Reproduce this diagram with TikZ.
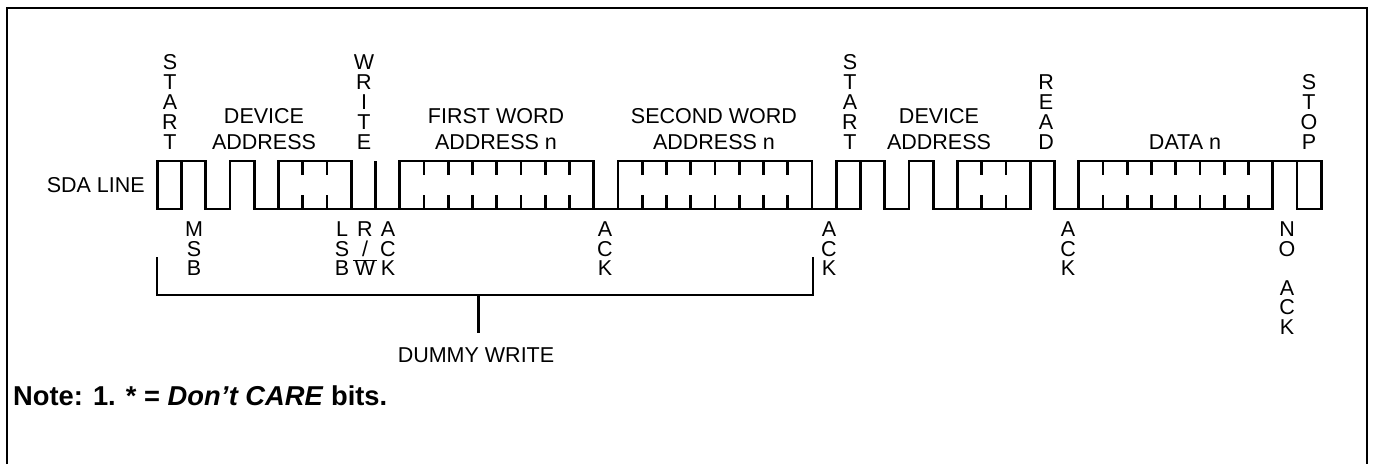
\documentclass[tikz,border=0pt]{standalone}
\usepackage{fontspec}
\setmainfont{Liberation Sans}
\usetikzlibrary{positioning}
\begin{document}
\begin{tikzpicture}[x=1pt,y=-1pt,
  wave/.style={line width=2.8pt},
  hilab/.style={anchor=south,inner sep=0pt,align=center,font=\fontsize{21.5}{26}\selectfont},
  uplab/.style={anchor=south,inner sep=0pt,align=center,font=\fontsize{21.5}{20}\selectfont},
  lolab/.style={anchor=north,inner sep=0pt,align=center,font=\fontsize{21.5}{19.5}\selectfont}]
  \useasboundingbox (0,0) rectangle (1375,464);
  \draw[line width=1.3pt] (7,464) -- (7,8) -- (1367,8) -- (1367,464);
  % SDA waveform, one x unit is one bit cell
  \begin{scope}[shift={(157.3,0)},x=24.25pt]
    \draw[wave] (0,161) rectangle (1,209);
    \draw[wave] (28,161) rectangle (29,209);
    \draw[wave] (47,161) rectangle (48,209);
    \foreach \a/\b in {5/8,10/18,19/27,33/36,38/46}
      \draw[wave] (\a,161) rectangle (\b,209);
    \draw[wave] (1,161) -- (2,161) -- (2,209) -- (3,209) -- (3,161) -- (4,161) -- (4,209) -- (5,209) -- (5,161)
      (8,209) -- (10,209) (18,209) -- (19,209) (27,209) -- (28,209);
    \draw[wave] (9,161) -- (9,209);
    \draw[wave] (29,161) -- (30,161) -- (30,209) -- (31,209) -- (31,161) -- (32,161) -- (32,209) -- (33,209)
      (36,161) -- (37,161) -- (37,209) -- (38,209) (46,161) -- (47,161);
    \foreach \k in {6,7,11,12,...,17,20,21,...,26,34,35,39,40,...,45}
      \draw[wave] (\k,161) -- (\k,175) (\k,195) -- (\k,209);
  \end{scope}
  \node[anchor=east,inner sep=0pt,font=\fontsize{21.5}{26}\selectfont] (sda) at (145,185) {SDA LINE};
  % labels above
  \node[uplab] (start1) at (170,150) {S\\T\\A\\R\\T};
  \node[hilab] (dev1) at (264,150) {DEVICE\\ADDRESS};
  \node[uplab] (write) at (364,150) {W\\R\\I\\T\\E};
  \node[hilab] (word1) at (496,150) {FIRST WORD\\ADDRESS n};
  \node[hilab] (word2) at (714,150) {SECOND WORD\\ADDRESS n};
  \node[uplab] (start2) at (850,150) {S\\T\\A\\R\\T};
  \node[hilab] (dev2) at (939,150) {DEVICE\\ADDRESS};
  \node[uplab] (read) at (1046,150) {R\\E\\A\\D};
  \node[hilab] (data) at (1185,150) {DATA n};
  \node[uplab] (stop) at (1309,150) {S\\T\\O\\P};
  % labels below
  \node[lolab] (msb) at (194,222) {M\\S\\B};
  \node[lolab] (lsb) at (342,222) {L\\S\\B};
  \node[lolab] (rw) at (365,222) {R\\/\\$\overline{\makebox[24pt]{W}}$};
  \node[lolab] (ack1) at (388,222) {A\\C\\K};
  \node[lolab] (ack2) at (605,222) {A\\C\\K};
  \node[lolab] (ack3) at (829,222) {A\\C\\K};
  \node[lolab] (ack4) at (1068,222) {A\\C\\K};
  \node[lolab] (noack) at (1287,222) {N\\O\\[19.5pt]A\\C\\K};
  % dummy write bracket
  \coordinate (dwl) at (157,257);
  \coordinate (dwr) at (813,257);
  \coordinate (dwm) at (478.7,295);
  \coordinate (dwend) at (478.7,333);
  \node[inner sep=0pt,font=\fontsize{21.5}{26}\selectfont] (dummy) at (476,355) {DUMMY WRITE};
  \draw[wave] (dwl) |- (dwm) -| (dwr);
  \draw[wave] (dwm) -- (dwend);
  \node[anchor=base west,inner sep=0pt,font=\fontsize{27.3}{32}\selectfont\bfseries] (note) at (13,405) {Note: 1. * = \textit{Don't CARE} bits.};
\end{tikzpicture}
\end{document}
